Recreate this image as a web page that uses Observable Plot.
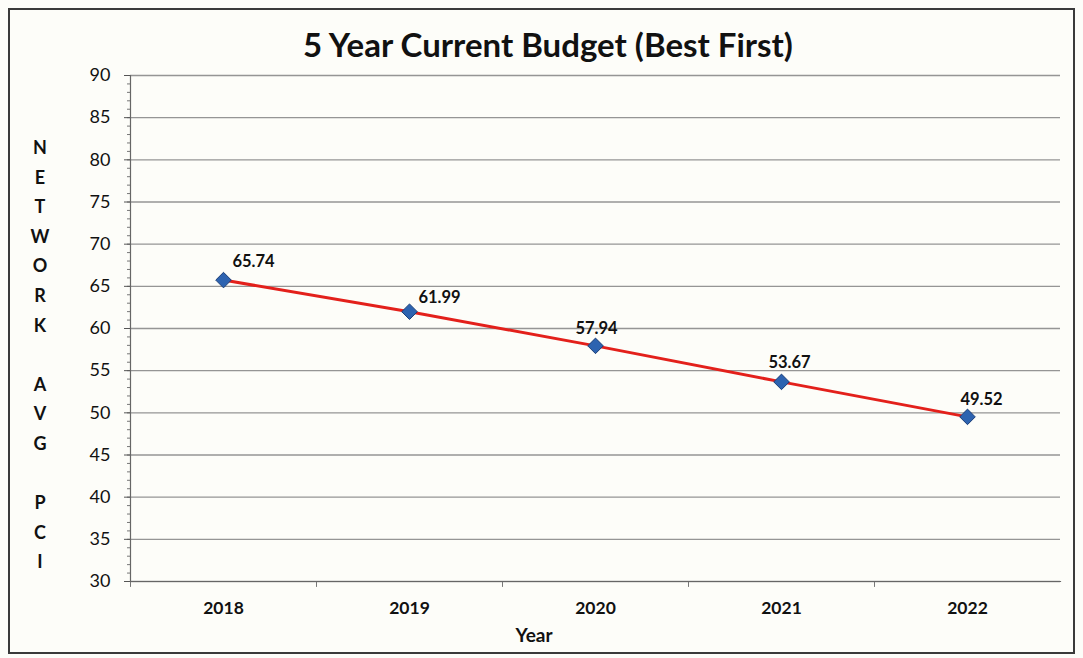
<!DOCTYPE html>
<html>
<head>
<meta charset="utf-8">
<script src="https://cdn.jsdelivr.net/npm/d3@7"></script>
<script src="https://cdn.jsdelivr.net/npm/@observablehq/plot@0.6"></script>
<style>
  html, body { margin: 0; padding: 0; background: #fdfdf9; }
  #wrap { position: relative; width: 1083px; height: 658px; font-family: Lato, "Open Sans", sans-serif; }
  #frame { position: absolute; left: 8px; top: 8px; width: 1067px; height: 646px; border: 2px solid #3a3a3a; box-sizing: border-box; }
  #title { position: absolute; left: 0; width: 1096px; top: 24px; text-align: center; font-size: 33px; font-weight: bold; color: #111; }
  #ylab { position: absolute; left: 28px; width: 24px; top: 133px; text-align: center; font-size: 18px; font-weight: bold; color: #111; line-height: 29.6px; white-space: pre; }
  #xlab { position: absolute; left: 484px; width: 100px; top: 623px; text-align: center; font-size: 19px; font-weight: bold; color: #111; }
  #chart { position: absolute; left: 0; top: 0; }
</style>
</head>
<body>
<div id="wrap">
  <div id="chart"></div>
  <div id="frame"></div>
  <div id="title"></div>
  <div id="ylab"></div>
  <div id="xlab"></div>
</div>
<script>
const titleText = "5 Year Current Budget (Best First)";
const yAxisLabel = ["N","E","T","W","O","R","K","","A","V","G","","P","C","I"];
const xAxisLabel = "Year";
const years = ["2018", "2019", "2020", "2021", "2022"];
const pci = [65.74, 61.99, 57.94, 53.67, 49.52];
const yTicks = [30, 35, 40, 45, 50, 55, 60, 65, 70, 75, 80, 85, 90];
const yMinorTicks = d3.range(30, 91, 1);

// label placement (style only)
const labelOffsets = [[30, -18], [30, -14], [1, -17], [8, -19], [14, -17]];

const data = years.map((y, i) => ({year: y, value: pci[i], label: pci[i].toFixed(2), i}));

document.getElementById("title").textContent = titleText;
document.getElementById("ylab").textContent = yAxisLabel.join("\n");
document.getElementById("xlab").textContent = xAxisLabel;

const labelMarks = data.map(d => Plot.text([d], {
  x: "year", y: "value", text: "label",
  dx: labelOffsets[d.i][0], dy: labelOffsets[d.i][1],
  fontSize: 16.5, fontWeight: "bold", fill: "#111"
}));

const chart = Plot.plot({
  width: 1083,
  height: 658,
  marginLeft: 130,
  marginRight: 23,
  marginTop: 75,
  marginBottom: 77,
  style: {fontFamily: "Lato, 'Open Sans', sans-serif", background: "transparent", color: "#111"},
  x: {type: "band", domain: years, padding: 0, label: null},
  y: {domain: [30, 90], label: null},
  marks: [
    Plot.gridY(yTicks, {stroke: "#959595", strokeOpacity: 1, strokeWidth: 1.3}),
    Plot.axisY(yMinorTicks, {tickSize: 3, text: null, stroke: "#777", label: null}),
    Plot.axisY(yTicks, {tickSize: 6, tickPadding: 14, fontSize: 18, stroke: "#555", label: null}),
    Plot.axisX(years, {tickSize: 0, tickPadding: 20, fontSize: 17.5, fontWeight: "bold", label: null}),
    Plot.ruleX(years, {x: d => d, y1: 30, y2: 29.3, dx: -93, stroke: "#777"}),
    Plot.frame({anchor: "left", stroke: "#666", strokeWidth: 1.2}),
    Plot.frame({anchor: "bottom", stroke: "#666", strokeWidth: 1.2}),
    Plot.line(data, {x: "year", y: "value", stroke: "#e3201b", strokeWidth: 3}),
    Plot.dot(data, {x: "year", y: "value", symbol: "diamond2", r: 7, fill: "#2d63b0", stroke: "#1c3f78", strokeWidth: 1}),
    ...labelMarks
  ]
});
document.getElementById("chart").appendChild(chart);
</script>
</body>
</html>
